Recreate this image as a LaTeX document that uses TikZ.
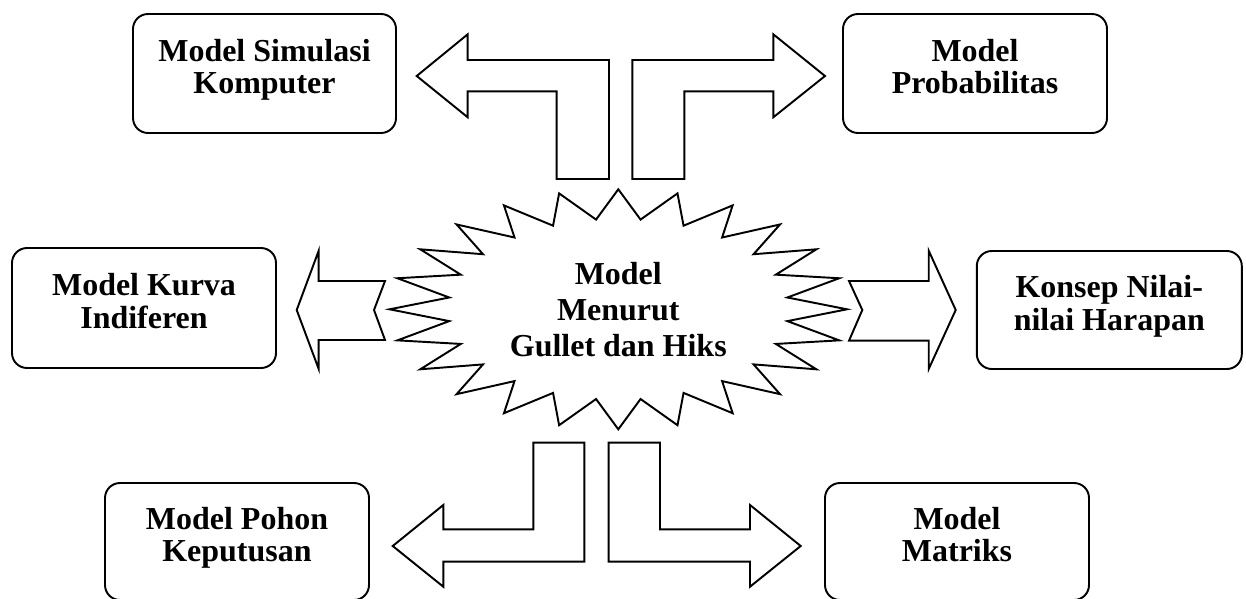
\documentclass[tikz,border=0pt]{standalone}
\usepackage{fontspec}
\setmainfont{Liberation Serif}
\begin{document}
\begin{tikzpicture}[x=0.02cm, y=-0.02cm,
  outline/.style={draw=black, line width=1.1pt, line join=miter, fill=white},
  box/.style={draw=black, line width=1.1pt, rounded corners=0.3cm, align=center,
    font=\fontsize{18.2}{18.6}\selectfont\bfseries, inner sep=0pt, text depth=8pt},
  hub/.style={align=center, font=\fontsize{18.2}{20.5}\selectfont\bfseries, inner sep=0pt}]
\useasboundingbox (0,0) rectangle (1246,598);
\clip (0,0) rectangle (1246,598);

% rounded boxes with the six models
\node[box, minimum width=263*0.02cm, minimum height=119*0.02cm] (sim) at (264.5,73.5)
  {Model Simulasi\\Komputer};
\node[box, minimum width=264*0.02cm, minimum height=119*0.02cm] (prob) at (975,73.5)
  {Model\\Probabilitas};
\node[box, minimum width=264*0.02cm, minimum height=120*0.02cm] (kurva) at (144,308)
  {Model Kurva\\Indiferen};
\node[box, minimum width=265*0.02cm, minimum height=118*0.02cm] (nilai) at (1109.3,310)
  {Konsep Nilai-\\nilai Harapan};
\node[box, minimum width=264*0.02cm, minimum height=117*0.02cm] (pohon) at (237,541.5)
  {Model Pohon\\Keputusan};
\node[box, minimum width=264*0.02cm, minimum height=117*0.02cm] (matriks) at (957,541.5)
  {Model\\Matriks};

% starburst around the central label
\begin{scope}[shift={(618.3,309.3)}]
  \draw[outline] (90:228.7 and 120)
    \foreach \a in {1,...,23} {-- ({90+15*\a-7.5}:170.5 and 90.5) -- ({90+15*\a}:228.7 and 120)}
    -- (82.5:170.5 and 90.5) -- cycle;
\end{scope}
\node[hub] (hub) at (618.3,309.3) {Model\\Menurut\\Gullet dan Hiks};

% bent block arrows, top
\draw[outline] (416.7,76) -- (467.7,34.3) -- (467.7,60) -- (609,60) -- (609,179)
  -- (556.7,179) -- (556.7,91.3) -- (467.7,91.3) -- (467.7,117.3) -- cycle;
\draw[outline] (825,76) -- (773.3,34.3) -- (773.3,60) -- (632.3,60) -- (632.3,179)
  -- (684.3,179) -- (684.3,91.3) -- (773.3,91.3) -- (773.3,117.3) -- cycle;

% bent block arrows, bottom
\draw[outline] (584.3,442.7) -- (533.3,442.7) -- (533.3,529.3) -- (443.3,529.3)
  -- (443.3,505) -- (392.7,546) -- (443.3,586.7) -- (443.3,561.7) -- (584.3,561.7) -- cycle;
\draw[outline] (608.7,442.7) -- (660,442.7) -- (660,529.3) -- (750,529.3)
  -- (750,505) -- (800.7,546) -- (750,586.7) -- (750,561.7) -- (608.7,561.7) -- cycle;

% notched block arrows, left and right
\draw[outline] (296.7,310) -- (318.7,250.7) -- (318.7,281) -- (385,281) -- (374,310)
  -- (385,340) -- (318.7,340) -- (318.7,369) -- cycle;
\draw[outline] (955.7,310) -- (928.7,250.7) -- (928.7,281) -- (849,281) -- (862.3,310)
  -- (849,340.7) -- (928.7,340.7) -- (928.7,369) -- cycle;
\end{tikzpicture}
\end{document}
